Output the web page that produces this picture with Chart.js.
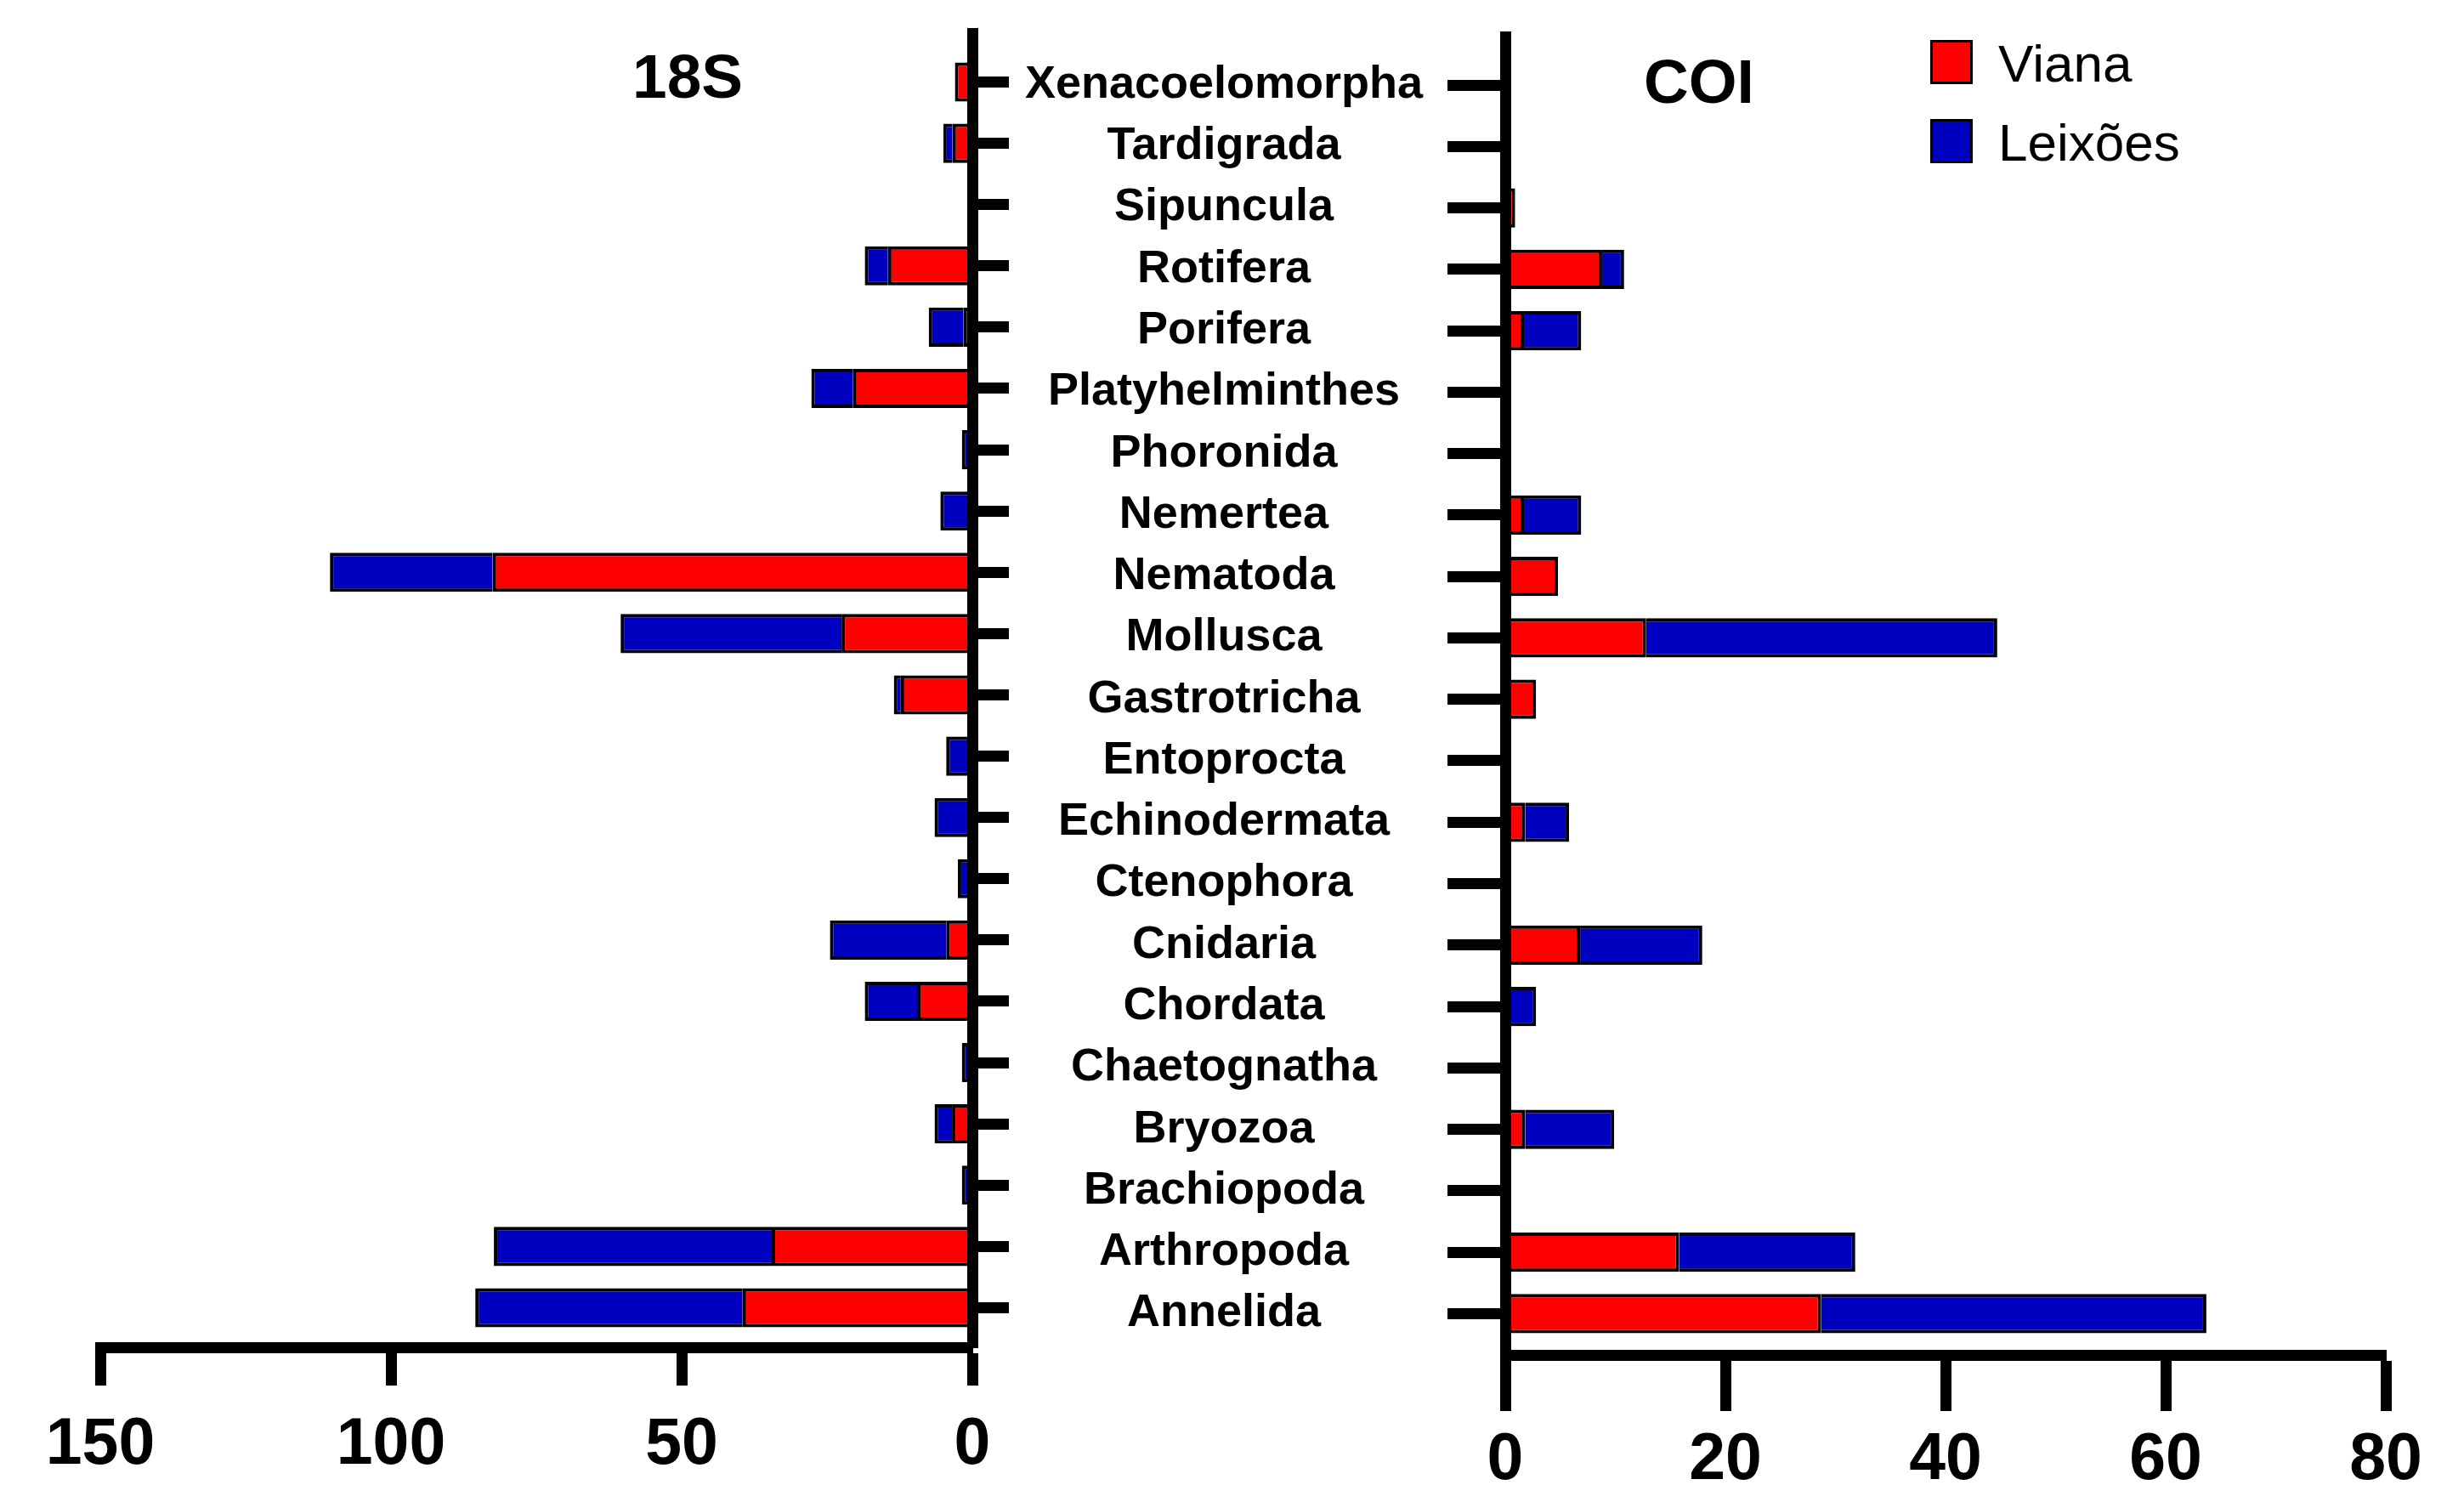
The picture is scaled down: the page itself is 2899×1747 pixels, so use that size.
<!DOCTYPE html>
<html>
<head>
<meta charset="utf-8">
<script src="https://cdn.jsdelivr.net/npm/chart.js@4.4.1/dist/chart.umd.min.js"></script>
<style>
  html, body { margin: 0; padding: 0; background: #fff; }
  #page { position: relative; width: 2899px; height: 1747px; overflow: hidden;
          font-family: 'Liberation Sans', Arial, sans-serif; color: #000; }
  canvas { position: absolute; top: 0; }
  #left18S { left: 0; }
  #rightCOI { left: 1190px; }
  .panel-title { position: absolute; font-weight: bold; font-size: 73px; line-height: 73px;
                 white-space: nowrap; transform: translateX(-50%); }
  .swatch { position: absolute; width: 50px; height: 52px; box-sizing: border-box; border: 3px solid #000; }
  .legend-text { position: absolute; font-size: 62px; line-height: 62px; white-space: nowrap; }
</style>
</head>
<body>
<div id="page">
  <canvas id="left18S" width="1190" height="1747"></canvas>
  <canvas id="rightCOI" width="1709" height="1747"></canvas>
  <div class="panel-title" style="left:809px; top:53px;">18S</div>
  <div class="panel-title" style="left:1999px; top:59px;">COI</div>
  <div id="legend"></div>
</div>
<script>
// phyla, top to bottom
const phyla = ['Xenacoelomorpha', 'Tardigrada', 'Sipuncula', 'Rotifera', 'Porifera',
  'Platyhelminthes', 'Phoronida', 'Nemertea', 'Nematoda', 'Mollusca', 'Gastrotricha',
  'Entoprocta', 'Echinodermata', 'Ctenophora', 'Cnidaria', 'Chordata', 'Chaetognatha',
  'Bryozoa', 'Brachiopoda', 'Arthropoda', 'Annelida'];

// 18S panel (left)
const viana18S   = [3, 3.4, 0, 14.5, 1.5, 20.5, 0, 0, 82.5, 22.5, 12.3, 0, 0, 0, 4.5, 9.5, 0, 3.5, 0, 34.5, 39.5];
const leixoes18S = [0, 1.6, 0, 4, 6, 7.2, 1.8, 5.5, 28, 38, 1.2, 4.5, 6.5, 2.5, 20, 9, 1.8, 3, 1.8, 47.8, 46];

// COI panel (right)
const vianaCOI   = [0, 0, 0.9, 8.8, 1.7, 0, 0, 1.7, 4.8, 12.8, 2.8, 0, 1.8, 0, 6.8, 0, 0, 1.8, 0, 15.8, 28.7];
const leixoesCOI = [0, 0, 0, 2, 5.2, 0, 0, 5.2, 0, 31.9, 0, 0, 4, 0, 11.1, 2.8, 0, 8.1, 0, 16, 35];

const ticks18S = [0, 50, 100, 150];
const ticksCOI = [0, 20, 40, 60, 80];

const seriesNames = ['Viana', 'Leixões'];
const seriesColors = ['#ff0000', '#0000c0'];

Chart.defaults.font.family = "'Liberation Sans', Arial, sans-serif";
Chart.defaults.color = '#000';

function toPoints(values) {
  return values.map((v, i) => ({ x: v, y: i }));
}

//Function to build one half of the figure
function makePanel(id, viana, leixoes, xTicks, cfg) {
  const ctx = document.getElementById(id).getContext('2d');
  return new Chart(ctx, {
    type: 'bar',
    data: {
      datasets: [viana, leixoes].map((vals, k) => ({
        label: seriesNames[k],
        data: toPoints(vals),
        backgroundColor: seriesColors[k],
        borderColor: '#000',
        borderWidth: 4,
        barPercentage: 0.64,
        categoryPercentage: 1
      }))
    },
    options: {
      indexAxis: 'y',
      responsive: false,
      animation: false,
      devicePixelRatio: 1,
      layout: { padding: cfg.padding },
      plugins: { legend: { display: false }, tooltip: { enabled: false } },
      scales: {
        x: {
          type: 'linear',
          min: 0,
          max: xTicks[xTicks.length - 1],
          reverse: cfg.reverse,
          stacked: true,
          afterBuildTicks: s => { s.ticks = xTicks.map(v => ({ value: v })); },
          afterFit: s => { s.height = cfg.xHeight; s.paddingLeft = 0; s.paddingRight = 0; },
          border: { color: '#000', width: 13, z: 1 },
          grid: { drawOnChartArea: false, tickLength: cfg.xTick, tickWidth: 13, tickColor: '#000' },
          ticks: { padding: cfg.xPad, font: { size: 77, weight: 'bold' }, callback: v => String(v) }
        },
        y: {
          type: 'linear',
          reverse: true,
          offset: false,
          min: cfg.yMin,
          max: cfg.yMax,
          stacked: true,
          position: cfg.yPos,
          afterBuildTicks: s => { s.ticks = phyla.map((p, i) => ({ value: i })); },
          afterFit: s => { s.width = cfg.yWidth; s.paddingTop = 0; s.paddingBottom = 0; },
          border: { color: '#000', width: 13, z: 1 },
          grid: { offset: false, drawOnChartArea: false, tickLength: cfg.yTick, tickWidth: 13, tickColor: '#000' },
          ticks: {
            display: cfg.showLabels,
            autoSkip: false,
            crossAlign: 'center',
            padding: 29,
            font: { size: 54, weight: 'bold' },
            callback: v => phyla[v]
          }
        }
      }
    }
  });
}

makePanel('left18S', viana18S, leixoes18S, ticks18S, {
  reverse: true,
  padding: { left: 118, top: 39, right: 0, bottom: 0 },
  xHeight: 162, xTick: 45, xPad: 25,
  yPos: 'right', yWidth: 46, yTick: 43,
  yMin: -0.7975, yMax: 20.645,
  showLabels: false
});

makePanel('rightCOI', vianaCOI, leixoesCOI, ticksCOI, {
  reverse: false,
  padding: { left: 0, top: 43, right: 92, bottom: 0 },
  xHeight: 153, xTick: 66, xPad: 13,
  yPos: 'left', yWidth: 581, yTick: 68,
  yMin: -0.789, yMax: 20.672,
  showLabels: true
});

// legend (top right)
const legend = document.getElementById('legend');
seriesNames.forEach((name, k) => {
  const top = 47 + k * 93;
  const box = document.createElement('div');
  box.className = 'swatch';
  box.style.left = '2271px';
  box.style.top = top + 'px';
  box.style.background = seriesColors[k];
  legend.appendChild(box);
  const txt = document.createElement('div');
  txt.className = 'legend-text';
  txt.style.left = '2351px';
  txt.style.top = (top - 3.5) + 'px';
  txt.textContent = name;
  legend.appendChild(txt);
});
</script>
</body>
</html>
